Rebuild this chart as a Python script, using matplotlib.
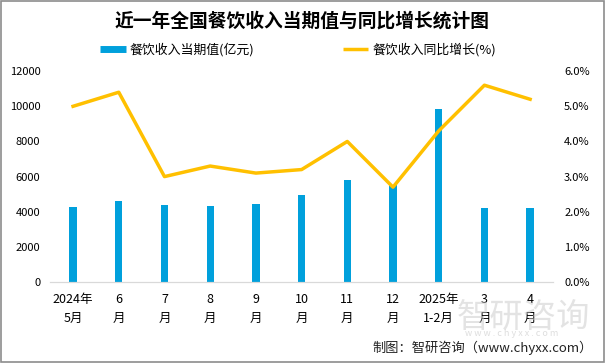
import numpy as np
import matplotlib.pyplot as plt
from matplotlib.lines import Line2D

plt.rcParams['font.family'] = ['Noto Sans CJK SC', 'DejaVu Sans']

months = ['2024年\n5月', '6\n月', '7\n月', '8\n月', '9\n月', '10\n月', '11\n月',
          '12\n月', '2025年\n1-2月', '3\n月', '4\n月']
revenue = [4283, 4604, 4367, 4347, 4432, 4936, 5811, 5527, 9825, 4235, 4212]
growth = [5.0, 5.4, 3.0, 3.3, 3.1, 3.2, 4.0, 2.7, 4.3, 5.6, 5.2]

bar_color = '#00A0DC'
line_color = '#FFC000'

fig = plt.figure(figsize=(6.05, 3.63), dpi=100)
ax = fig.add_axes([0.083, 0.223, 0.831, 0.581])
ax2 = ax.twinx()

x = np.arange(len(months))
ax.bar(x, revenue, width=0.16, color=bar_color, zorder=2)
ax2.plot(x, growth, color=line_color, lw=2.5, zorder=3)

ax.set_xlim(-0.5, len(months) - 0.5)
ax.set_ylim(0, 12000)
ax.set_yticks(range(0, 12001, 2000))
ax2.set_ylim(0, 6)
ax2.set_yticks(np.arange(0, 6.01, 1))
ax2.set_yticklabels([f'{v:.1f}%' for v in np.arange(0, 6.01, 1)])

ax.set_xticks(x)
ax.set_xticklabels(months, fontsize=9, linespacing=1.55)
ax.tick_params(axis='y', labelsize=8, length=0, pad=7)
ax2.tick_params(axis='y', labelsize=8, length=0, pad=8)
ax.tick_params(axis='x', length=0, pad=8)

for a in (ax, ax2):
    for s in ['top', 'left', 'right']:
        a.spines[s].set_visible(False)
    a.spines['bottom'].set_color('#D9D9D9')

ax2.set_zorder(ax.get_zorder() + 1)
ax2.patch.set_visible(False)

fig.text(0.5, 0.942, '近一年全国餐饮收入当期值与同比增长统计图', ha='center', va='center',
         fontsize=13.5, fontweight='bold')

handles = [Line2D([], [], color=bar_color, lw=5, solid_capstyle='butt'),
           Line2D([], [], color=line_color, lw=2.5, solid_capstyle='butt')]
fig.legend(handles, ['餐饮收入当期值(亿元)', '餐饮收入同比增长(%)'], loc='center left',
           bbox_to_anchor=(0.155, 0.862), ncol=2, frameon=False, fontsize=9.3,
           columnspacing=6.8, handlelength=2.0, handletextpad=0.3, borderpad=0)

# watermark
fig.text(0.865, 0.125, '智研咨询', ha='center', va='center', fontsize=24,
         color='#C8C8C8', alpha=0.5)
fig.text(0.845, 0.082, 'w w w . c h y x x . c o m', ha='center', va='center',
         fontsize=6.5, color='#C8C8C8', alpha=0.6)

fig.text(0.98, 0.042, '制图：智研咨询（www.chyxx.com）', ha='right', va='center',
         fontsize=9.5, color='#222222')

fig.patches.append(plt.Rectangle((0.001, 0.002), 0.997, 0.995, transform=fig.transFigure,
                                 fill=False, edgecolor='#8C8C8C', lw=1.2))

fig.savefig('out.png', dpi=100)
